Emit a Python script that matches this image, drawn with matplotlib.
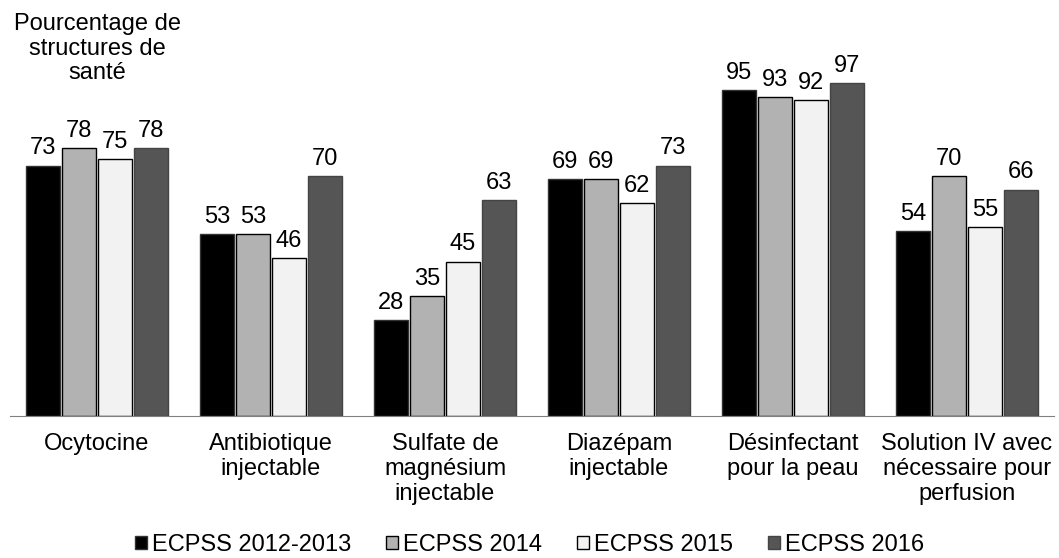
import numpy as np
import matplotlib.pyplot as plt
from matplotlib.patches import Patch

plt.rcParams['font.family'] = ['Liberation Sans', 'DejaVu Sans']

categories = ['Ocytocine', 'Antibiotique\ninjectable', 'Sulfate de\nmagnésium\ninjectable',
              'Diazépam\ninjectable', 'Désinfectant\npour la peau',
              'Solution IV avec\nnécessaire pour\nperfusion']
series = ['ECPSS 2012-2013', 'ECPSS 2014', 'ECPSS 2015', 'ECPSS 2016']
v2012 = [73, 53, 28, 69, 95, 54]
v2014 = [78, 53, 35, 69, 93, 70]
v2015 = [75, 46, 45, 62, 92, 55]
v2016 = [78, 70, 63, 73, 97, 66]

colors = ['#000000', '#b2b2b2', '#f2f2f2', '#555555']
edges = ['#333333', '#000000', '#000000', '#444444']
fs = 17

fig = plt.figure(figsize=(10.59, 5.58), dpi=100)
ax = fig.add_axes([10 / 1059, 1 - 416 / 558, 1044 / 1059, 343 / 558])

x = np.arange(len(categories))
w = 0.207
for i, vals in enumerate([v2012, v2014, v2015, v2016]):
    pos = x + (i - 1.5) * w
    ax.bar(pos, vals, width=w * 0.97, color=colors[i], edgecolor=edges[i], linewidth=1)
    for p, v in zip(pos, vals):
        ax.text(p, v + 1.8, str(v), ha='center', va='bottom', fontsize=fs)

ax.set_xlim(-0.5, len(categories) - 0.5)
ax.set_ylim(0, 100)
ax.set_yticks([])
ax.set_xticks(x)
ax.set_xticklabels(categories, fontsize=fs, linespacing=1.2)
ax.tick_params(axis='x', length=0, pad=12)
for sp in ['top', 'right', 'left']:
    ax.spines[sp].set_visible(False)
ax.spines['bottom'].set_color('#808080')

fig.text(97 / 1059, 1 - 13 / 558, 'Pourcentage de\nstructures de\nsanté', ha='center', va='top',
         fontsize=fs, linespacing=1.15)

handles = [Patch(facecolor=c, edgecolor=e, linewidth=1) for c, e in zip(colors, edges)]
fig.legend(handles, series, loc='center', bbox_to_anchor=(0.5, 1 - 545 / 558), ncol=4,
           frameon=False, fontsize=fs, handlelength=0.5, handleheight=0.5,
           handletextpad=0.2, columnspacing=1.5, borderaxespad=0, borderpad=0)

fig.savefig('out.png', dpi=100)
